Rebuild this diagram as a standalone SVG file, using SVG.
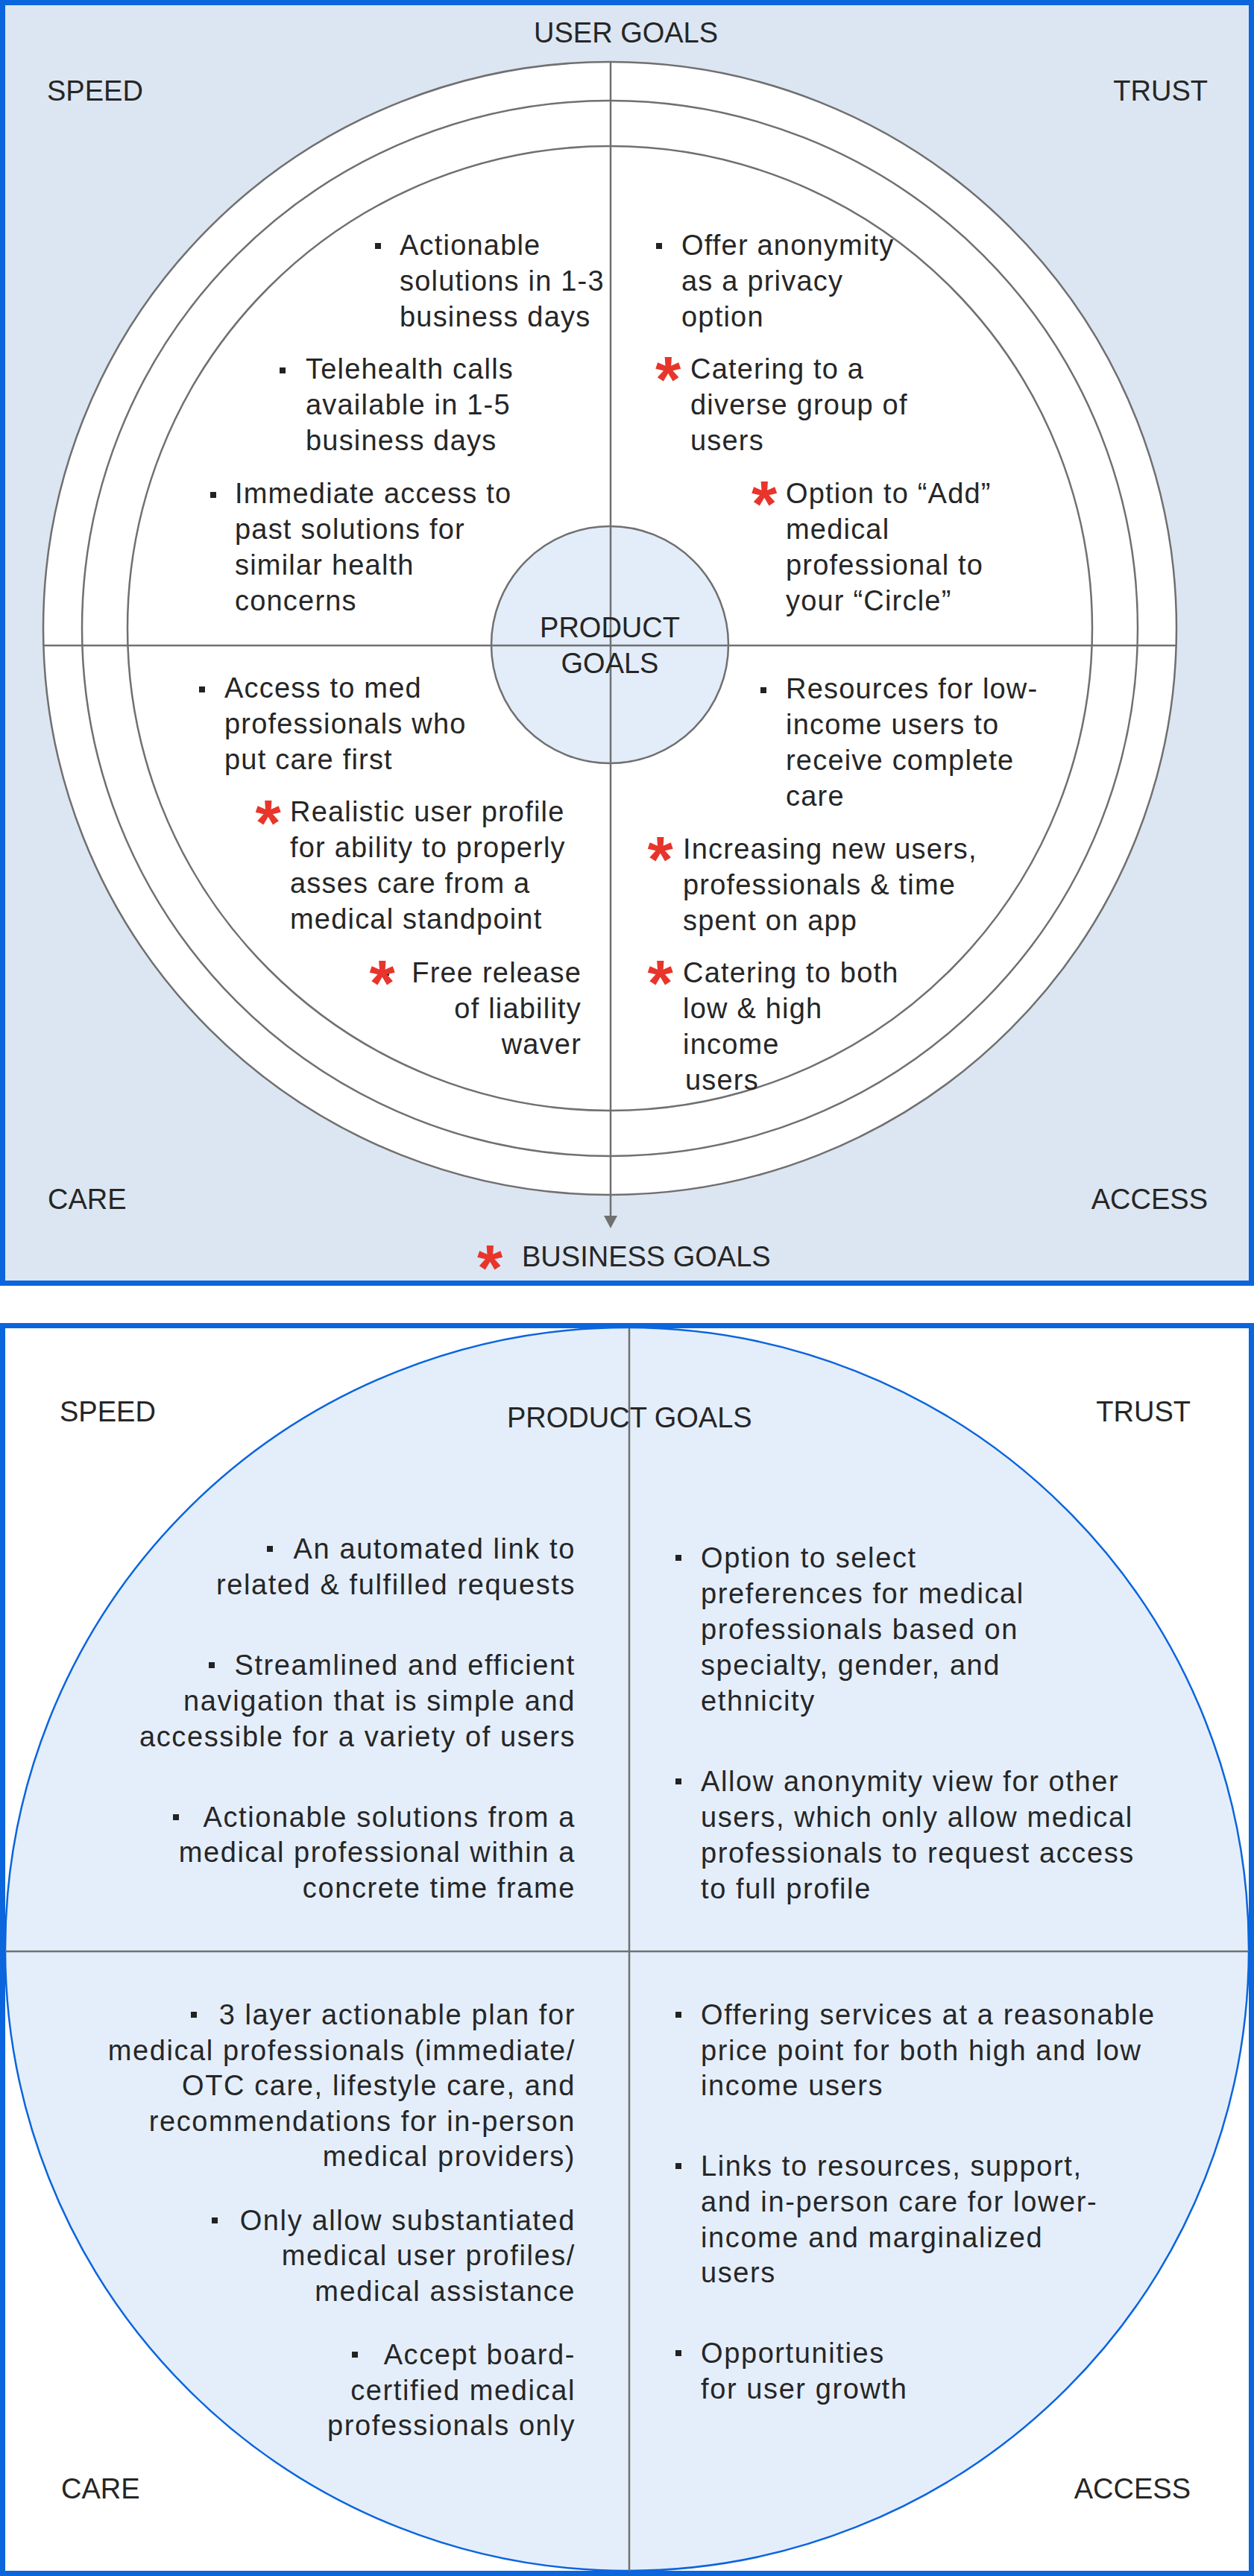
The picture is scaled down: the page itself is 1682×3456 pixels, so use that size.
<svg xmlns="http://www.w3.org/2000/svg" width="1682" height="3456" viewBox="0 0 1682 3456">
<style>
text{font-family:"Liberation Sans",Arial,sans-serif;font-size:38px;fill:#262626}
.b{letter-spacing:1.6px}
.bt{letter-spacing:1.2px}
.e{text-anchor:end}
.m{text-anchor:middle}
.ast{fill:#e8352b;font-weight:bold;font-size:88px;text-anchor:middle;letter-spacing:0}
.ring{fill:#fff;stroke:#707070;stroke-width:2.5}
.ln{stroke:#707070;stroke-width:2.5;fill:none}
.bul{fill:#222}
</style>

<!-- TOP PANEL -->
<rect x="3.5" y="3.5" width="1675" height="1718" fill="#dce6f2" stroke="#0b65dd" stroke-width="7"/>
<circle class="ring" cx="818" cy="843" r="760"/>
<circle class="ring" cx="818" cy="843" r="708"/>
<circle class="ring" cx="818" cy="843" r="647"/>
<circle cx="818" cy="865" r="159" fill="#e3edfa" stroke="#707070" stroke-width="2.5"/>

<g id="connectors-top">
<line class="ln" x1="59" y1="866" x2="1577" y2="866"/>
<line class="ln" x1="819" y1="83" x2="819" y2="1633"/>
<path d="M810,1631 L828,1631 L819,1648 z" fill="#707070"/>
</g>

<g id="label-user-goals"><text x="716" y="57">USER GOALS</text></g>
<g id="label-speed-top"><text x="63" y="135">SPEED</text></g>
<g id="label-trust-top"><text class="e" x="1620" y="135">TRUST</text></g>
<g id="label-care-top"><text x="64" y="1622">CARE</text></g>
<g id="label-access-top"><text class="e" x="1620" y="1622">ACCESS</text></g>
<g id="label-business-goals">
<text class="ast" x="657" y="1731">*</text>
<text x="700" y="1699">BUSINESS GOALS</text>
</g>
<g id="product-goals-center">
<text class="m" x="818" y="855">PRODUCT</text>
<text class="m" x="818" y="903">GOALS</text>
</g>

<g id="top-speed">
<rect class="bul" x="503" y="326" width="8" height="8"/>
<text class="bt"><tspan x="536" y="342">Actionable</tspan><tspan x="536" y="390">solutions in 1-3</tspan><tspan x="536" y="438">business days</tspan></text>
<rect class="bul" x="375" y="493" width="8" height="8"/>
<text class="bt"><tspan x="410" y="508">Telehealth calls</tspan><tspan x="410" y="556">available in 1-5</tspan><tspan x="410" y="604">business days</tspan></text>
<rect class="bul" x="282" y="660" width="8" height="8"/>
<text class="bt"><tspan x="315" y="675">Immediate access to</tspan><tspan x="315" y="723">past solutions for</tspan><tspan x="315" y="771">similar health</tspan><tspan x="315" y="819">concerns</tspan></text>
</g>

<g id="top-trust">
<rect class="bul" x="880" y="326" width="8" height="8"/>
<text class="bt"><tspan x="914" y="342">Offer anonymity</tspan><tspan x="914" y="390">as a privacy</tspan><tspan x="914" y="438">option</tspan></text>
<text class="ast" x="896" y="539">*</text>
<text class="bt"><tspan x="926" y="508">Catering to a</tspan><tspan x="926" y="556">diverse group of</tspan><tspan x="926" y="604">users</tspan></text>
<text class="ast" x="1025" y="706">*</text>
<text class="bt"><tspan x="1054" y="675">Option to “Add”</tspan><tspan x="1054" y="723">medical</tspan><tspan x="1054" y="771">professional to</tspan><tspan x="1054" y="819">your “Circle”</tspan></text>
</g>

<g id="top-care">
<rect class="bul" x="267" y="921" width="8" height="8"/>
<text class="bt"><tspan x="301" y="936">Access to med</tspan><tspan x="301" y="984">professionals who</tspan><tspan x="301" y="1032">put care first</tspan></text>
<text class="ast" x="359.5" y="1134">*</text>
<text class="bt"><tspan x="389" y="1102">Realistic user profile</tspan><tspan x="389" y="1150">for ability to properly</tspan><tspan x="389" y="1198">asses care from a</tspan><tspan x="389" y="1246">medical standpoint</tspan></text>
<rect class="bul" x="515" y="1301" width="7" height="8"/>
<text class="ast" x="512.5" y="1349">*</text>
<text class="bt e"><tspan x="780" y="1318">Free release</tspan><tspan x="780" y="1366">of liability</tspan><tspan x="780" y="1414">waver</tspan></text>
</g>

<g id="top-access">
<rect class="bul" x="1020" y="922" width="8" height="8"/>
<text class="bt"><tspan x="1054" y="937">Resources for low-</tspan><tspan x="1054" y="985">income users to</tspan><tspan x="1054" y="1033">receive complete</tspan><tspan x="1054" y="1081">care</tspan></text>
<text class="ast" x="885.5" y="1183">*</text>
<text class="bt"><tspan x="916" y="1152">Increasing new users,</tspan><tspan x="916" y="1200">professionals &amp; time</tspan><tspan x="916" y="1248">spent on app</tspan></text>
<text class="ast" x="885.5" y="1349">*</text>
<text class="bt"><tspan x="916" y="1318">Catering to both</tspan><tspan x="916" y="1366">low &amp; high</tspan><tspan x="916" y="1414">income</tspan><tspan x="919" y="1462">users</tspan></text>
</g>

<!-- BOTTOM PANEL -->
<rect x="3" y="1778" width="1676" height="1675" fill="#fff" stroke="none"/>
<circle cx="841" cy="2615" r="834" fill="#e4eefb" stroke="#0b65dd" stroke-width="2.5"/>
<g id="connectors-bottom">
<line class="ln" x1="844" y1="1781" x2="844" y2="3450"/>
<line class="ln" x1="6" y1="2618" x2="1676" y2="2618"/>
</g>
<rect x="3.5" y="1778.5" width="1675" height="1674" fill="none" stroke="#0b65dd" stroke-width="7"/>

<g id="label-speed-bottom"><text x="80" y="1907">SPEED</text></g>
<g id="label-product-goals"><text x="680" y="1915">PRODUCT GOALS</text></g>
<g id="label-trust-bottom"><text class="e" x="1597" y="1907">TRUST</text></g>
<g id="label-care-bottom"><text x="82" y="3352">CARE</text></g>
<g id="label-access-bottom"><text class="e" x="1597" y="3352">ACCESS</text></g>

<g id="bottom-speed">
<rect class="bul" x="358" y="2074" width="8" height="8"/>
<rect class="bul" x="280" y="2230" width="8" height="8"/>
<rect class="bul" x="232" y="2434" width="8" height="8"/>
<text class="b e"><tspan x="772" y="2091">An automated link to</tspan><tspan x="772" y="2139">related &amp; fulfilled requests</tspan><tspan x="772" y="2247">Streamlined and efficient</tspan><tspan x="772" y="2295">navigation that is simple and</tspan><tspan x="772" y="2343">accessible for a variety of users</tspan><tspan x="772" y="2451">Actionable solutions from a</tspan><tspan x="772" y="2498">medical professional within a</tspan><tspan x="772" y="2546">concrete time frame</tspan></text>
</g>

<g id="bottom-trust">
<rect class="bul" x="906" y="2086" width="8" height="8"/>
<rect class="bul" x="906" y="2386" width="8" height="8"/>
<text class="b"><tspan x="940" y="2103">Option to select</tspan><tspan x="940" y="2151">preferences for medical</tspan><tspan x="940" y="2199">professionals based on</tspan><tspan x="940" y="2247">specialty, gender, and</tspan><tspan x="940" y="2295">ethnicity</tspan><tspan x="940" y="2403">Allow anonymity view for other</tspan><tspan x="940" y="2451">users, which only allow medical</tspan><tspan x="940" y="2499">professionals to request access</tspan><tspan x="940" y="2547">to full profile</tspan></text>
</g>

<g id="bottom-care">
<rect class="bul" x="256" y="2699" width="8" height="8"/>
<rect class="bul" x="284" y="2975" width="8" height="8"/>
<rect class="bul" x="472" y="3155" width="8" height="8"/>
<text class="b e"><tspan x="772" y="2716">3 layer actionable plan for</tspan><tspan x="772" y="2764">medical professionals (immediate/</tspan><tspan x="772" y="2811">OTC care, lifestyle care, and</tspan><tspan x="772" y="2859">recommendations for in-person</tspan><tspan x="772" y="2906">medical providers)</tspan><tspan x="772" y="2992">Only allow substantiated</tspan><tspan x="772" y="3039">medical user profiles/</tspan><tspan x="772" y="3087">medical assistance</tspan><tspan x="772" y="3172">Accept board-</tspan><tspan x="772" y="3220">certified medical</tspan><tspan x="772" y="3267">professionals only</tspan></text>
</g>

<g id="bottom-access">
<rect class="bul" x="906" y="2699" width="8" height="8"/>
<rect class="bul" x="906" y="2902" width="8" height="8"/>
<rect class="bul" x="906" y="3153" width="8" height="8"/>
<text class="b"><tspan x="940" y="2716">Offering services at a reasonable</tspan><tspan x="940" y="2764">price point for both high and low</tspan><tspan x="940" y="2811">income users</tspan><tspan x="940" y="2919">Links to resources, support,</tspan><tspan x="940" y="2967">and in-person care for lower-</tspan><tspan x="940" y="3015">income and marginalized</tspan><tspan x="940" y="3062">users</tspan><tspan x="940" y="3170">Opportunities</tspan><tspan x="940" y="3218">for user growth</tspan></text>
</g>
</svg>
